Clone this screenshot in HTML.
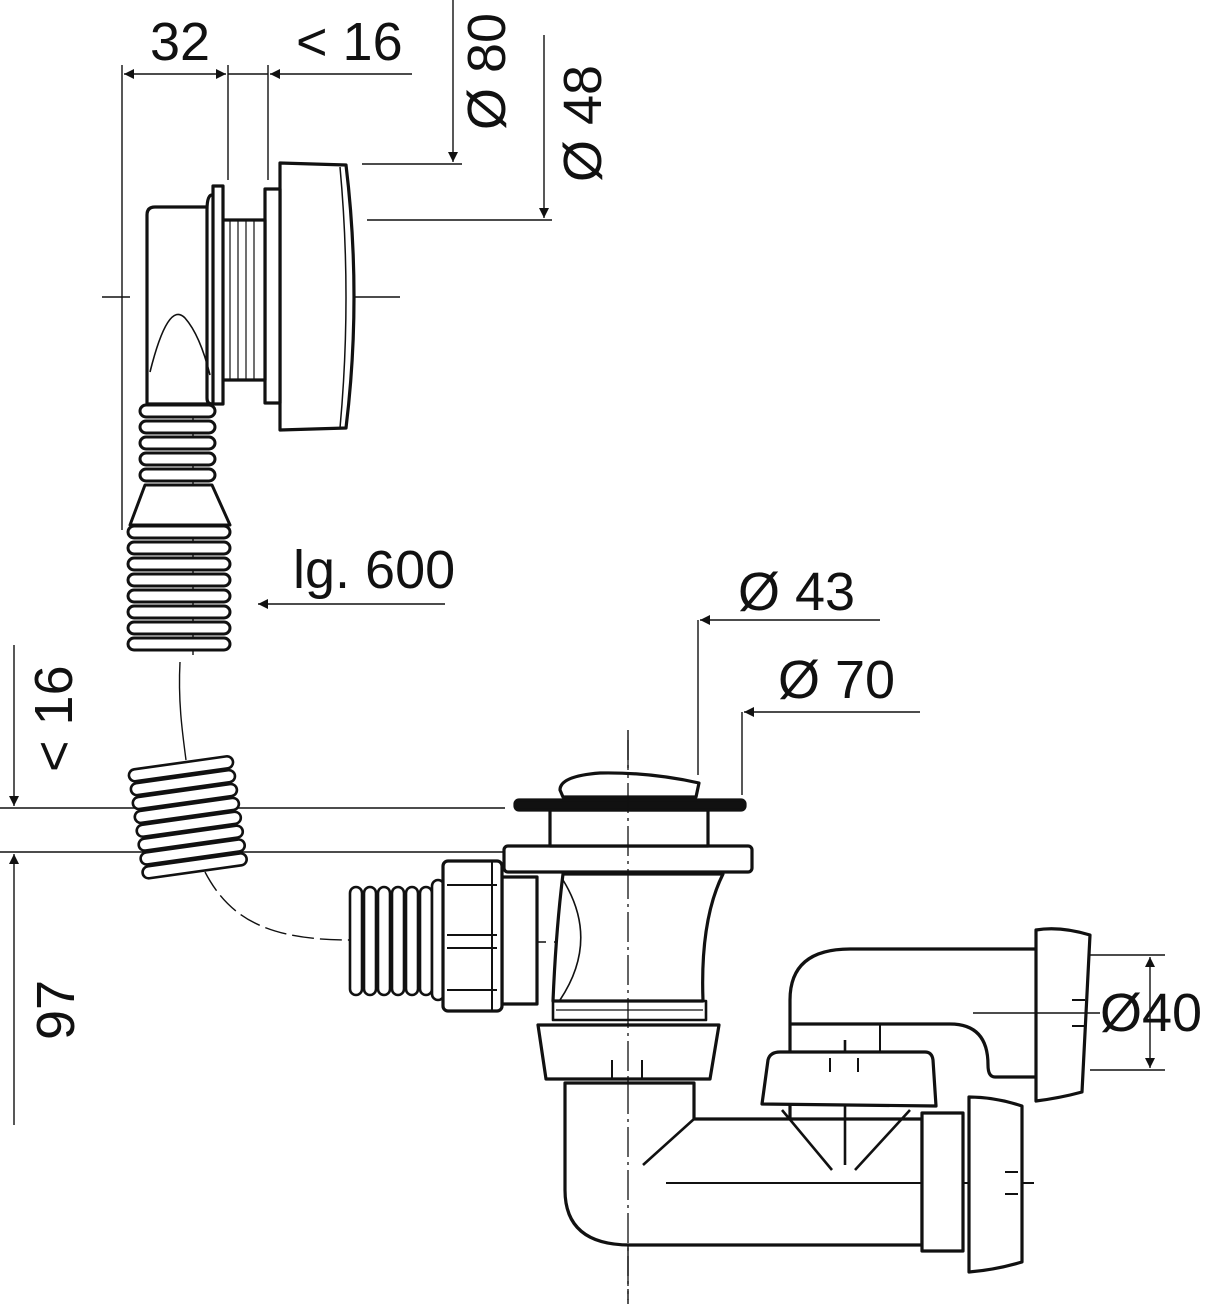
<!DOCTYPE html>
<html><head><meta charset="utf-8"><style>
html,body{margin:0;padding:0;background:#fff;}
svg{display:block}
text{font-family:"Liberation Sans",Arial,sans-serif;fill:#111}
</style></head><body>
<svg width="1205" height="1304" viewBox="0 0 1205 1304" xmlns="http://www.w3.org/2000/svg">
<defs>
<marker id="ah" viewBox="0 0 10 10" refX="10" refY="5" markerWidth="22" markerHeight="10" markerUnits="userSpaceOnUse" orient="auto-start-reverse"><path d="M0,0 L10,5 L0,10 z" fill="#111"/></marker>
</defs>
<g stroke="#111" fill="none" stroke-width="1.4">
<line x1="122" y1="65" x2="122" y2="530"/>
<line x1="228" y1="65" x2="228" y2="180"/>
<line x1="268" y1="65" x2="268" y2="180"/>
<line x1="124" y1="74" x2="226" y2="74" marker-start="url(#ah)" marker-end="url(#ah)"/>
<line x1="228" y1="74" x2="268" y2="74"/>
<line x1="412" y1="74" x2="270" y2="74" marker-end="url(#ah)"/>
<line x1="453" y1="0" x2="453" y2="162" marker-end="url(#ah)"/>
<line x1="362" y1="164" x2="462" y2="164"/>
<line x1="544" y1="35" x2="544" y2="218" marker-end="url(#ah)"/>
<line x1="367" y1="220" x2="552" y2="220"/>
<line x1="102" y1="297" x2="130" y2="297"/>
<line x1="147" y1="297" x2="325" y2="297"/>
<line x1="348" y1="297" x2="400" y2="297"/>
<line x1="193" y1="350" x2="193" y2="440"/>
<line x1="193" y1="460" x2="193" y2="500"/>
<line x1="193" y1="508" x2="193" y2="655"/>
<line x1="445" y1="604" x2="258" y2="604" marker-end="url(#ah)"/>
<line x1="880" y1="620" x2="700" y2="620" marker-end="url(#ah)"/>
<line x1="698" y1="620" x2="698" y2="775"/>
<line x1="920" y1="712" x2="744" y2="712" marker-end="url(#ah)"/>
<line x1="742" y1="712" x2="742" y2="795"/>
<line x1="14" y1="645" x2="14" y2="806" marker-end="url(#ah)"/>
<line x1="14" y1="1125" x2="14" y2="854" marker-end="url(#ah)"/>
<line x1="0" y1="808" x2="505" y2="808"/>
<line x1="0" y1="852" x2="505" y2="852"/>
<line x1="1090" y1="955" x2="1165" y2="955"/>
<line x1="1090" y1="1070" x2="1165" y2="1070"/>
<line x1="1150" y1="957" x2="1150" y2="1068" marker-start="url(#ah)" marker-end="url(#ah)"/>
<line x1="628" y1="730" x2="628" y2="1304" stroke-dasharray="30,5,3,5"/>
<line x1="450" y1="942" x2="610" y2="942" stroke-dasharray="18,8"/>
<path d="M180,662 C178,700 182,730 186,760" />
<path d="M205,872 C230,920 270,940 350,940" stroke-dasharray="22,6"/>
</g>

<g stroke="#111" stroke-width="3.2" fill="#fff" stroke-linejoin="round">
<path d="M280,163 L346,165 Q362,297 346,428 L280,430 Z"/>
<path d="M340,167 Q352,297 340,428" fill="none" stroke-width="1.5"/>
<rect x="265" y="189" width="15" height="214"/>
<rect x="222" y="220" width="43" height="160"/>
<g stroke-width="1.2"><line x1="230" y1="220" x2="230" y2="380"/><line x1="238" y1="220" x2="238" y2="380"/><line x1="246" y1="220" x2="246" y2="380"/><line x1="254" y1="220" x2="254" y2="380"/></g>
<path d="M147,215 Q147,207 155,207 L212,207 L212,404 L147,404 Z"/>
<path d="M212,195 Q207,195 207,210 L207,398 Q207,404 212,404" />
<rect x="213" y="186" width="10" height="218"/>
<path d="M150,372 Q168,300 185,318 Q200,335 210,375" fill="none" stroke-width="1.6"/>
<g stroke-width="3">
<rect x="140" y="405" width="75" height="12" rx="6"/>
<rect x="140" y="421" width="75" height="12" rx="6"/>
<rect x="140" y="437" width="75" height="12" rx="6"/>
<rect x="140" y="453" width="75" height="12" rx="6"/>
<rect x="140" y="469" width="75" height="12" rx="6"/>
<path d="M145,485 L130,525 L230,525 L212,485 Z"/>
<rect x="128" y="526" width="102" height="12" rx="6"/>
<rect x="128" y="542" width="102" height="12" rx="6"/>
<rect x="128" y="558" width="102" height="12" rx="6"/>
<rect x="128" y="574" width="102" height="12" rx="6"/>
<rect x="128" y="590" width="102" height="12" rx="6"/>
<rect x="128" y="606" width="102" height="12" rx="6"/>
<rect x="128" y="622" width="102" height="12" rx="6"/>
<rect x="128" y="638" width="102" height="12" rx="6"/>
</g>
<g transform="rotate(-8 190 815)" stroke-width="2.6">
<rect x="135" y="762" width="105" height="12" rx="6"/>
<rect x="135" y="776" width="105" height="12" rx="6"/>
<rect x="135" y="790" width="105" height="12" rx="6"/>
<rect x="135" y="804" width="105" height="12" rx="6"/>
<rect x="135" y="818" width="105" height="12" rx="6"/>
<rect x="135" y="832" width="105" height="12" rx="6"/>
<rect x="135" y="846" width="105" height="12" rx="6"/>
<rect x="135" y="860" width="105" height="12" rx="6"/>
</g>
<g stroke-width="2.6">
<rect x="350" y="887" width="12" height="108" rx="6"/>
<rect x="364" y="887" width="12" height="108" rx="6"/>
<rect x="378" y="887" width="12" height="108" rx="6"/>
<rect x="392" y="887" width="12" height="108" rx="6"/>
<rect x="406" y="887" width="12" height="108" rx="6"/>
<rect x="420" y="887" width="12" height="108" rx="6"/>
<rect x="432" y="880" width="12" height="120" rx="6"/>
</g>
<rect x="502" y="877" width="35" height="127"/>
<rect x="443" y="861" width="59" height="150" rx="5"/>
<g stroke-width="2"><line x1="447" y1="885" x2="497" y2="885"/><line x1="447" y1="935" x2="497" y2="935"/><line x1="447" y1="948" x2="497" y2="948"/><line x1="447" y1="990" x2="497" y2="990"/><line x1="492" y1="862" x2="492" y2="1010"/></g>

<path d="M790,1180 L790,1000 Q790,949 850,949 L1040,949 L1040,1077 L995,1077 Q988,1077 988,1065 Q988,1024 950,1024 L790,1024" />
<line x1="880" y1="1024" x2="880" y2="1052" stroke-width="2"/>
<path d="M1036,930 Q1060,926 1090,935 L1082,1092 Q1060,1098 1036,1101 Z"/>
<line x1="973" y1="1013" x2="1100" y2="1013" stroke-width="1.6"/>
<line x1="1072" y1="1000" x2="1085" y2="1000" stroke-width="2"/>
<line x1="1072" y1="1026" x2="1085" y2="1026" stroke-width="2"/>

<path d="M565,1083 L565,1190 Q565,1245 630,1245 L922,1245 L922,1119 L694,1119 L694,1083 Z"/>
<g stroke-width="2.6" fill="none">
<line x1="694" y1="1119" x2="643" y2="1165"/>
<line x1="782" y1="1110" x2="832" y2="1170"/>
<line x1="910" y1="1110" x2="855" y2="1170"/>
<line x1="845" y1="1040" x2="845" y2="1165"/>
</g>
<line x1="666" y1="1183" x2="1034" y2="1183" stroke-width="2"/>
<path d="M762,1104 L768,1060 Q770,1052 780,1052 L925,1052 Q932,1052 933,1060 L936,1106 Z"/>
<line x1="830" y1="1058" x2="830" y2="1072" stroke-width="2"/>
<line x1="858" y1="1058" x2="858" y2="1072" stroke-width="2"/>
<rect x="922" y="1113" width="41" height="138"/>
<path d="M969,1097 Q995,1097 1022,1106 L1022,1262 Q995,1270 969,1272 Z"/>
<line x1="1005" y1="1172" x2="1018" y2="1172" stroke-width="2"/>
<line x1="1005" y1="1194" x2="1018" y2="1194" stroke-width="2"/>

<path d="M538,1025 L719,1025 L710,1079 L546,1079 Z"/>
<line x1="612" y1="1060" x2="612" y2="1079" stroke-width="2"/>
<line x1="642" y1="1060" x2="642" y2="1079" stroke-width="2"/>
<rect x="553" y="1001" width="153" height="19" stroke-width="2.6"/>
<line x1="556" y1="1010" x2="703" y2="1010" stroke-width="1.2"/>
<path d="M563,874 L723,874 Q700,920 703,1001 L553,1001 Q556,930 563,874 Z"/>
<path d="M563,880 Q600,940 560,1000" fill="none" stroke-width="1.6"/>
<rect x="504" y="846" width="248" height="26" rx="4"/>
<rect x="550" y="810" width="158" height="36"/>
<rect x="515" y="800" width="230" height="10" rx="4" fill="#111"/>
<path d="M560,790 Q560,776 600,773 Q650,772 699,783 L696,797 L563,797 Z"/>
<line x1="628" y1="740" x2="628" y2="1300" stroke-width="1.3" stroke-dasharray="30,5,3,5" fill="none"/>
</g>

<text x="150" y="60" font-size="54">32</text>
<text x="296" y="60" font-size="54">&lt; 16</text>
<text transform="translate(505,130) rotate(-90)" font-size="54">Ø 80</text>
<text transform="translate(601,182) rotate(-90)" font-size="54">Ø 48</text>
<text x="293" y="588" font-size="54">lg. 600</text>
<text x="738" y="610" font-size="54">Ø 43</text>
<text x="778" y="698" font-size="54">Ø 70</text>
<text transform="translate(72,772) rotate(-90)" font-size="54">&lt; 16</text>
<text transform="translate(74,1040) rotate(-90)" font-size="54">97</text>
<text x="1100" y="1031" font-size="54">Ø40</text>
</svg>
</body></html>
